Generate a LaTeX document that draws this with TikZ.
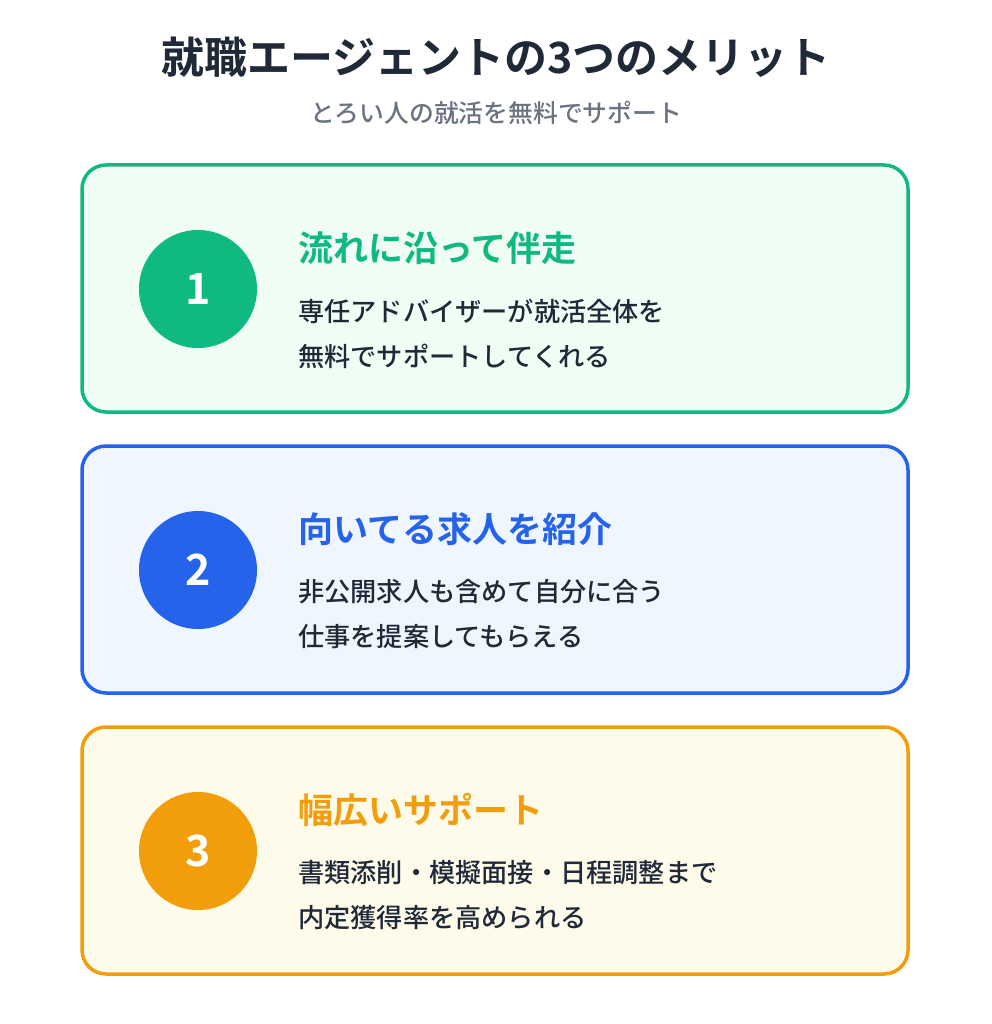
\documentclass[tikz,border=0pt]{standalone}
\usepackage{fontspec}
\newfontfamily\jp{Noto Sans CJK JP Medium}
\newfontfamily\jpb{Noto Sans CJK JP Bold}
\definecolor{gA}{HTML}{10B981}\definecolor{gF}{HTML}{F0FDF4}
\definecolor{bA}{HTML}{2563EB}\definecolor{bF}{HTML}{EFF6FF}
\definecolor{oA}{HTML}{F29E0C}\definecolor{oF}{HTML}{FFFBEB}
\definecolor{tx}{HTML}{1F2937}\definecolor{sub}{HTML}{6B7280}
\begin{document}
\begin{tikzpicture}[x=1pt,y=-1pt,
 card/.style={draw=#1,line width=3.5pt,rounded corners=24pt},
 num/.style={circle,fill=#1,minimum size=118pt,inner sep=0pt,text=white,font=\jpb\fontsize{43}{43}\selectfont},
 head/.style={anchor=west,text=#1,font=\jpb\fontsize{35}{35}\selectfont,inner sep=0pt},
 body/.style={anchor=west,text=tx,font=\jp\fontsize{26.2}{26.2}\selectfont,inner sep=0pt}]
\useasboundingbox (0,0) rectangle (991,1024);
\node[text=tx,font=\jpb\fontsize{43}{43}\selectfont] (title) at (496,57) {就職エージェントの3つのメリット};
\node[text=sub,font=\jp\fontsize{24.8}{24.8}\selectfont] (subt) at (496,113) {とろい人の就活を無料でサポート};
\foreach \y/\c/\f/\n/\h/\a/\b in {
 165/gA/gF/1/流れに沿って伴走/専任アドバイザーが就活全体を/無料でサポートしてくれる,
 446/bA/bF/2/向いてる求人を紹介/非公開求人も含めて自分に合う/仕事を提案してもらえる,
 727/oA/oF/3/幅広いサポート/書類添削・模擬面接・日程調整まで/内定獲得率を高められる}{
 \draw[card=\c,fill=\f] (82,\y) rectangle (908,\y+247);
 \node[num=\c] (n\n) at (198,\y+124) {\n};
 \node[head=\c] (h\n) at (298,\y+83) {\h};
 \node[body] (a\n) at (298,\y+146) {\a};
 \node[body] (b\n) at (298,\y+191) {\b};
}
\end{tikzpicture}
\end{document}
